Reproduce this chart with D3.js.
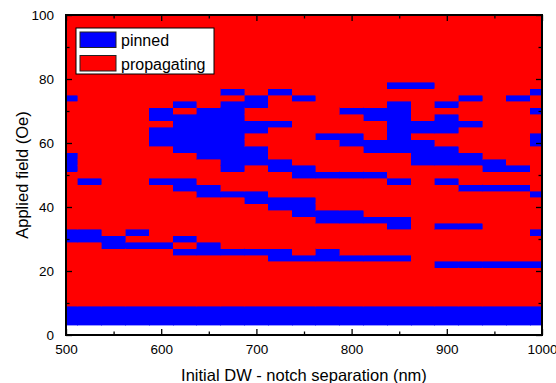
<!DOCTYPE html>
<html>
<head>
<meta charset="utf-8">
<script src="https://cdn.jsdelivr.net/npm/d3@7"></script>
<style>
  html, body { margin: 0; padding: 0; background: #fff; }
  svg { display: block; font-family: "Liberation Sans", Arial, sans-serif; }
</style>
</head>
<body>
<div id="chart"></div>
<script>
// initial DW - notch separation (nm), one column each
const separations = [500, 525, 550, 575, 600, 625, 650, 675, 700, 725, 750,
  775, 800, 825, 850, 875, 900, 925, 950, 975, 1000];

// applied field steps (Oe)
const fields = [4, 6, 8, 10, 12, 14, 16, 18, 20, 22, 24, 26, 28, 30, 32, 34, 36,
  38, 40, 42, 44, 46, 48, 50, 52, 54, 56, 58, 60, 62, 64, 66, 68, 70, 72, 74, 76,
  78, 80, 82, 84, 86, 88, 90, 92, 94, 96, 98, 100];

// fields at which the wall stays pinned, per separation; everything else propagates
const pinnedFields = [
  [4, 6, 8, 30, 32, 52, 54, 56, 74],
  [4, 6, 8, 30, 32, 48],
  [4, 6, 8, 28, 30],
  [4, 6, 8, 28, 32],
  [4, 6, 8, 28, 48, 60, 62, 64, 68, 70],
  [4, 6, 8, 26, 30, 46, 48, 58, 60, 62, 64, 66, 68, 72],
  [4, 6, 8, 26, 28, 44, 46, 56, 58, 60, 62, 64, 66, 68, 70],
  [4, 6, 8, 26, 44, 52, 54, 56, 58, 60, 62, 64, 66, 68, 70, 72, 76],
  [4, 6, 8, 26, 42, 44, 54, 56, 58, 64, 66, 72, 74],
  [4, 6, 8, 24, 26, 40, 42, 52, 54, 66, 76],
  [4, 6, 8, 24, 38, 40, 42, 50, 52, 74],
  [4, 6, 8, 24, 26, 36, 38, 50, 62],
  [4, 6, 8, 24, 36, 38, 50, 60, 62, 70],
  [4, 6, 8, 24, 36, 50, 58, 60, 68, 70],
  [4, 6, 8, 24, 34, 36, 48, 58, 60, 62, 64, 66, 68, 70, 72, 78],
  [4, 6, 8, 54, 56, 58, 60, 64, 66, 78],
  [4, 6, 8, 22, 34, 48, 54, 56, 58, 64, 66, 68, 72],
  [4, 6, 8, 22, 34, 46, 54, 56, 66, 74],
  [4, 6, 8, 22, 46, 52, 54],
  [4, 6, 8, 22, 46, 52, 74],
  [4, 6, 8, 22, 32, 44, 60, 62, 70, 76]
];

const states = ["pinned", "propagating"];
const stateColors = ["#0000ff", "#ff0000"];

const xTicks = [500, 600, 700, 800, 900, 1000];
const xMinorTicks = [550, 650, 750, 850, 950];
const yTicks = [0, 20, 40, 60, 80, 100];
const yMinorTicks = [10, 30, 50, 70, 90];

////////////////////////////////////////////////////////////////////////////////////

const width = 556;
const height = 383;
const margin = { top: 15, right: 14, bottom: 48, left: 66 };

const svg = d3.select("#chart")
  .append("svg")
  .attr("width", width)
  .attr("height", height);

const x = d3.scaleLinear().domain([500, 1000]).range([margin.left, width - margin.right]);
const y = d3.scaleLinear().domain([0, 100]).range([height - margin.bottom, margin.top]);
const color = d3.scaleOrdinal().domain(states).range(stateColors);

svg.append("clipPath")
  .attr("id", "plot-clip")
  .append("rect")
  .attr("x", x(500))
  .attr("y", y(100))
  .attr("width", x(1000) - x(500))
  .attr("height", y(0) - y(100));

////////////////////////////////////////////////////////////////////////////////////

const halfX = (separations[1] - separations[0]) / 2;
const halfY = (fields[1] - fields[0]) / 2;

let cells = [];
separations.forEach((sep, i) => {
  fields.forEach((f) => {
    cells.push({ sep: sep, field: f, state: pinnedFields[i].includes(f) ? "pinned" : "propagating" });
  });
});

svg.append("g")
  .attr("clip-path", "url(#plot-clip)")
  .selectAll("rect")
  .data(cells)
  .enter()
  .append("rect")
  .attr("x", (d) => x(d.sep - halfX))
  .attr("y", (d) => y(d.field + halfY))
  .attr("width", (d) => x(d.sep + halfX) - x(d.sep - halfX))
  .attr("height", (d) => y(d.field - halfY) - y(d.field + halfY))
  .attr("fill", (d) => color(d.state))
  .attr("stroke", (d) => color(d.state))
  .attr("stroke-width", 0.4)
  .attr("shape-rendering", "crispEdges");

////////////////////////////////////////////////////////////////////////////////////

// frame with inward ticks on all four sides
function styleAxis(g) {
  g.selectAll("path").remove();
  g.selectAll("line").attr("stroke", "#000").attr("stroke-width", 1.3);
  g.selectAll("text").attr("fill", "#000").style("font-size", "13.5px");
}

svg.append("g")
  .attr("transform", `translate(0,${y(0)})`)
  .call(d3.axisBottom(x).tickValues(xTicks).tickSizeInner(-6).tickSizeOuter(0).tickPadding(9).tickFormat(d3.format("d")))
  .call(styleAxis);
svg.append("g")
  .attr("transform", `translate(0,${y(0)})`)
  .call(d3.axisBottom(x).tickValues(xMinorTicks).tickSizeInner(-3.5).tickSizeOuter(0).tickFormat(""))
  .call(styleAxis);
svg.append("g")
  .attr("transform", `translate(0,${y(100)})`)
  .call(d3.axisTop(x).tickValues(xTicks).tickSizeInner(-6).tickSizeOuter(0).tickFormat(""))
  .call(styleAxis);
svg.append("g")
  .attr("transform", `translate(0,${y(100)})`)
  .call(d3.axisTop(x).tickValues(xMinorTicks).tickSizeInner(-3.5).tickSizeOuter(0).tickFormat(""))
  .call(styleAxis);

svg.append("g")
  .attr("transform", `translate(${x(500)},0)`)
  .call(d3.axisLeft(y).tickValues(yTicks).tickSizeInner(-6).tickSizeOuter(0).tickPadding(12))
  .call(styleAxis);
svg.append("g")
  .attr("transform", `translate(${x(500)},0)`)
  .call(d3.axisLeft(y).tickValues(yMinorTicks).tickSizeInner(-3.5).tickSizeOuter(0).tickFormat(""))
  .call(styleAxis);
svg.append("g")
  .attr("transform", `translate(${x(1000)},0)`)
  .call(d3.axisRight(y).tickValues(yTicks).tickSizeInner(-6).tickSizeOuter(0).tickFormat(""))
  .call(styleAxis);
svg.append("g")
  .attr("transform", `translate(${x(1000)},0)`)
  .call(d3.axisRight(y).tickValues(yMinorTicks).tickSizeInner(-3.5).tickSizeOuter(0).tickFormat(""))
  .call(styleAxis);

svg.append("rect")
  .attr("x", x(500))
  .attr("y", y(100))
  .attr("width", x(1000) - x(500))
  .attr("height", y(0) - y(100))
  .attr("fill", "none")
  .attr("stroke", "#000")
  .attr("stroke-width", 2);

////////////////////////////////////////////////////////////////////////////////////

svg.append("text")
  .attr("x", (x(500) + x(1000)) / 2)
  .attr("y", 381)
  .attr("text-anchor", "middle")
  .style("font-size", "16.5px")
  .text("Initial DW - notch separation (nm)");

svg.append("text")
  .attr("transform", `translate(28,${(y(0) + y(100)) / 2}) rotate(-90)`)
  .attr("text-anchor", "middle")
  .style("font-size", "16.5px")
  .text("Applied field (Oe)");

// legend
const legend = svg.append("g").attr("transform", "translate(76,28)");

legend.append("rect")
  .attr("width", 138)
  .attr("height", 46)
  .attr("fill", "#fff")
  .attr("stroke", "#000")
  .attr("stroke-width", 1);

const item = legend.selectAll("g.item")
  .data(states)
  .enter()
  .append("g")
  .attr("class", "item")
  .attr("transform", (d, i) => `translate(4,${4 + i * 23.5})`);

item.append("rect")
  .attr("width", 36)
  .attr("height", 15.5)
  .attr("fill", (d) => color(d))
  .attr("stroke", "#222")
  .attr("stroke-width", 1);

item.append("text")
  .attr("x", 41)
  .attr("y", 14)
  .style("font-size", "16px")
  .text((d) => d);
</script>
</body>
</html>
